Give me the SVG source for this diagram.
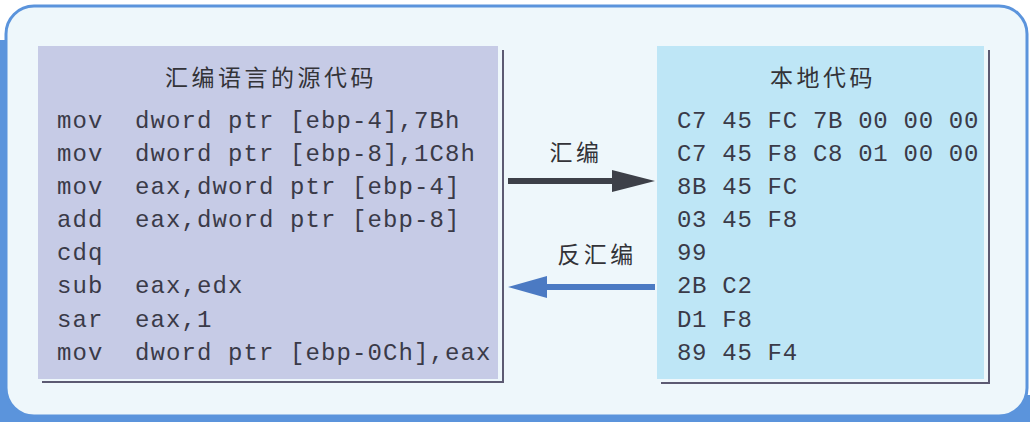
<svg xmlns="http://www.w3.org/2000/svg" width="1034" height="422" viewBox="0 0 1034 422">
<style>
.code{font-family:"Liberation Mono","DejaVu Sans Mono",monospace;font-size:24px;letter-spacing:1.1px;fill:#3a3a48}
.hex{letter-spacing:0.7px}
.cjk{font-family:"Noto Sans CJK SC","Noto Sans",sans-serif;font-size:23px;letter-spacing:3.5px;fill:#333338;text-anchor:middle}
.shadow{fill:none;stroke:#5c5a72;stroke-width:2}
</style>
<rect id="bg" x="0" y="0" width="1034" height="422" fill="#ffffff"/>
<g id="frame">
<rect x="0" y="395" width="1030" height="27" fill="#5b94dc"/>
<rect x="0" y="40" width="8" height="382" fill="#5b94dc"/>
<rect x="6" y="6" width="1021" height="410" rx="28" fill="#eef7fb" stroke="#5b94dc" stroke-width="3"/>
</g>
<g id="asm">
<rect x="38" y="46" width="460" height="333" fill="#c6cbe6"/>
<path class="shadow" d="M503 50 V382 H42"/>
<text class="cjk" x="271" y="86">汇编语言的源代码</text>
<g class="code">
<text x="57" y="128">mov</text><text x="135" y="128">dword ptr [ebp-4],7Bh</text>
<text x="57" y="161">mov</text><text x="135" y="161">dword ptr [ebp-8],1C8h</text>
<text x="57" y="194">mov</text><text x="135" y="194">eax,dword ptr [ebp-4]</text>
<text x="57" y="227">add</text><text x="135" y="227">eax,dword ptr [ebp-8]</text>
<text x="57" y="260">cdq</text>
<text x="57" y="293">sub</text><text x="135" y="293">eax,edx</text>
<text x="57" y="327">sar</text><text x="135" y="327">eax,1</text>
<text x="57" y="360">mov</text><text x="135" y="360">dword ptr [ebp-0Ch],eax</text>
</g>
</g>
<g id="native">
<rect x="657" y="46" width="327" height="333" fill="#bee6f6"/>
<path class="shadow" d="M989 50 V383 H661"/>
<text class="cjk" x="823" y="86">本地代码</text>
<g class="code hex">
<text x="677" y="128">C7 45 FC 7B 00 00 00</text>
<text x="677" y="161">C7 45 F8 C8 01 00 00</text>
<text x="677" y="194">8B 45 FC</text>
<text x="677" y="227">03 45 F8</text>
<text x="677" y="260">99</text>
<text x="677" y="293">2B C2</text>
<text x="677" y="327">D1 F8</text>
<text x="677" y="360">89 45 F4</text>
</g>
</g>
<g id="connectors">
<g id="assemble">
<rect x="508" y="178" width="108" height="6" fill="#3d4048"/>
<polygon points="612,170 655,181 612,192" fill="#3d4048"/>
<text class="cjk" x="576" y="161">汇编</text>
</g>
<g id="disassemble">
<rect x="544" y="284" width="111" height="6" fill="#4b7ac3"/>
<polygon points="508,287 547,276 547,298" fill="#4b7ac3"/>
<text class="cjk" x="597" y="263">反汇编</text>
</g>
</g>
</svg>
